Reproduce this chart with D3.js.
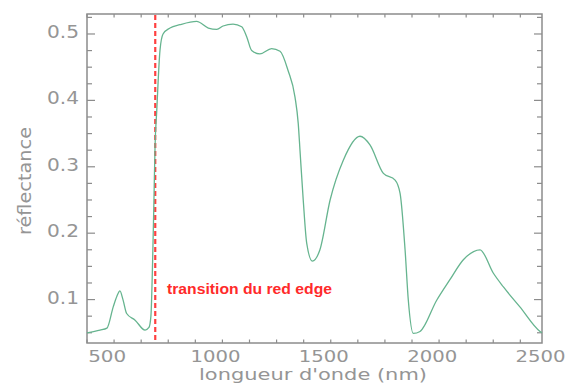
<!DOCTYPE html>
<html>
<head>
<meta charset="utf-8">
<script src="https://cdn.jsdelivr.net/npm/d3@7"></script>
<style>
  body { margin: 0; background: #fff; }
  svg { display: block; }
</style>
</head>
<body>
<div id="chart"></div>
<script>
// Spectre de réflectance
const wavelengths = [400, 460, 492, 521, 538, 552, 566, 583, 622, 668, 686, 695, 703, 709, 714, 722,
  737, 751, 783, 829, 906, 960, 999, 1028, 1074, 1114, 1137, 1160, 1198, 1252, 1291, 1328, 1360,
  1375, 1383, 1398, 1414, 1440, 1475, 1522, 1583, 1660, 1706, 1768, 1822, 1845, 1868, 1883, 1906,
  1937, 2014, 2075, 2137, 2214, 2275, 2322, 2398, 2491, 2500];
const reflectance = [0.050, 0.054, 0.057, 0.089, 0.105, 0.113, 0.100, 0.079, 0.069, 0.054, 0.058, 0.075,
  0.160, 0.250, 0.330, 0.385, 0.476, 0.500, 0.509, 0.514, 0.519, 0.509, 0.507, 0.512, 0.515, 0.511,
  0.496, 0.475, 0.470, 0.478, 0.474, 0.445, 0.405, 0.365, 0.325, 0.250, 0.185, 0.158, 0.175, 0.250,
  0.310, 0.346, 0.333, 0.290, 0.280, 0.260, 0.175, 0.099, 0.049, 0.052, 0.099, 0.130, 0.160, 0.175,
  0.140, 0.119, 0.089, 0.052, 0.050];

const xTicks = [500, 1000, 1500, 2000, 2500];
const yTicks = [0.1, 0.2, 0.3, 0.4, 0.5];
const redEdge = 715;

const w = 567;
const h = 383;
const margin = { top: 14, right: 25, bottom: 40, left: 87 };

const x = d3.scaleLinear().domain([400, 2500]).range([margin.left, w - margin.right]);
const y = d3.scaleLinear().domain([0.0346, 0.5301]).range([h - margin.bottom, margin.top]);

const svg = d3.select("#chart").append("svg")
  .attr("width", w)
  .attr("height", h);

const grey = "#8c8c8c";

// minor ticks
const xMinor = d3.range(400, 2501, 125).filter(v => v >= 400);
const yMinor = d3.range(0.05, 0.53, 0.025);

// ticks pointing inward, on all four sides
const tickG = svg.append("g").attr("stroke", grey).attr("stroke-width", 1.2);
xMinor.forEach(v => {
  const len = xTicks.includes(v) ? 6 : 3.5;
  tickG.append("line").attr("x1", x(v)).attr("x2", x(v))
    .attr("y1", y.range()[0]).attr("y2", y.range()[0] - len);
  tickG.append("line").attr("x1", x(v)).attr("x2", x(v))
    .attr("y1", y.range()[1]).attr("y2", y.range()[1] + len);
});
yMinor.forEach(v => {
  const major = yTicks.some(t => Math.abs(t - v) < 1e-6);
  const len = major ? 8 : 5;
  tickG.append("line").attr("y1", y(v)).attr("y2", y(v))
    .attr("x1", x.range()[0]).attr("x2", x.range()[0] + len);
  tickG.append("line").attr("y1", y(v)).attr("y2", y(v))
    .attr("x1", x.range()[1]).attr("x2", x.range()[1] - len);
});

// frame
svg.append("rect")
  .attr("x", margin.left).attr("y", margin.top)
  .attr("width", w - margin.left - margin.right)
  .attr("height", h - margin.top - margin.bottom)
  .attr("fill", "none").attr("stroke", grey).attr("stroke-width", 1.5);

// tick labels
const font = "DejaVu Sans";
const labelGrey = "#959595";
svg.selectAll(".xlab").data(xTicks).enter().append("text")
  .attr("x", d => x(d) - 1.5)
  .attr("y", 362)
  .attr("text-anchor", "middle")
  .attr("font-family", font).attr("font-size", 16)
  .attr("fill", labelGrey)
  .attr("textLength", d => String(d).length === 3 ? 38 : 50)
  .attr("lengthAdjust", "spacingAndGlyphs")
  .text(d => d);

svg.selectAll(".ylab").data(yTicks).enter().append("text")
  .attr("x", 79)
  .attr("y", d => y(d) + 4)
  .attr("text-anchor", "end")
  .attr("font-family", font).attr("font-size", 17)
  .attr("fill", labelGrey)
  .attr("textLength", 32)
  .attr("lengthAdjust", "spacingAndGlyphs")
  .text(d => d3.format(".1f")(d));

// axis titles
svg.append("text")
  .attr("x", 313).attr("y", 379.5)
  .attr("text-anchor", "middle")
  .attr("font-family", font).attr("font-size", 15.5)
  .attr("fill", labelGrey)
  .attr("textLength", 228)
  .attr("lengthAdjust", "spacingAndGlyphs")
  .text("longueur d'onde (nm)");

svg.append("text")
  .attr("transform", "translate(31,181) rotate(-90)")
  .attr("text-anchor", "middle")
  .attr("font-family", font).attr("font-size", 17)
  .attr("fill", labelGrey)
  .attr("textLength", 108)
  .attr("lengthAdjust", "spacingAndGlyphs")
  .text("réflectance");

// red edge marker
svg.append("line")
  .attr("x1", x(redEdge)).attr("x2", x(redEdge))
  .attr("y1", margin.top + 1).attr("y2", h - margin.bottom)
  .attr("stroke", "#ff4040").attr("stroke-width", 2.2)
  .attr("stroke-dasharray", "5,3");

// spectrum
const line = d3.line()
  .x((d, i) => x(wavelengths[i]))
  .y(d => y(d))
  .curve(d3.curveMonotoneX);

svg.append("path")
  .datum(reflectance)
  .attr("fill", "none")
  .attr("stroke", "#66b48f")
  .attr("stroke-width", 1.3)
  .attr("d", line);

svg.append("text")
  .attr("x", 167).attr("y", 294)
  .attr("font-family", "Liberation Sans, Arial, sans-serif")
  .attr("font-weight", "bold")
  .attr("font-size", 14)
  .attr("fill", "#ff2a2a")
  .attr("textLength", 165)
  .attr("lengthAdjust", "spacingAndGlyphs")
  .text("transition du red edge");
</script>
</body>
</html>
